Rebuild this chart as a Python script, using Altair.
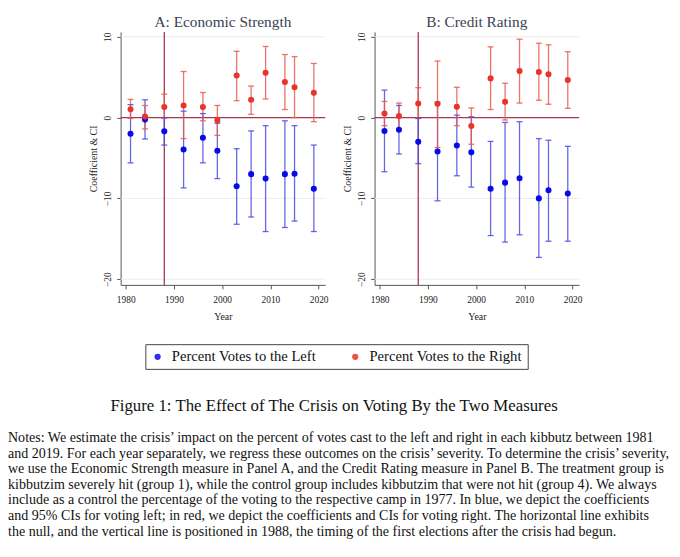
import altair as alt
import pandas as pd

# ---------------- data ----------------
YEARS = [1981, 1984, 1988, 1992, 1996, 1999, 2003, 2006, 2009, 2013, 2015, 2019]
SERIES = ["Percent Votes to the Left", "Percent Votes to the Right"]

# Panel A: Economic Strength
A_LEFT = [-2.0, -0.25, -1.7, -3.95, -2.5, -4.1, -8.5, -7.0, -7.55, -7.0, -6.95, -8.8]
A_LEFT_LO = [-5.6, -2.65, -3.4, -8.7, -5.6, -7.55, -13.2, -12.3, -14.1, -13.6, -12.8, -14.1]
A_LEFT_HI = [1.6, 2.2, 0.0, 0.8, 0.5, -0.7, -3.85, -1.65, -1.0, -0.4, -1.0, -3.4]
A_RIGHT = [1.02, 0.12, 1.3, 1.5, 1.3, -0.33, 5.2, 2.2, 5.55, 4.4, 3.75, 3.06]
A_RIGHT_LO = [-0.1, -1.4, -0.1, -2.6, -0.4, -2.2, 2.1, 0.4, 2.3, 1.0, 0.0, -0.5]
A_RIGHT_HI = [2.25, 1.5, 2.9, 5.7, 3.1, 1.5, 8.2, 3.9, 8.8, 7.8, 7.55, 6.7]

# Panel B: Credit Rating
B_LEFT = [-1.65, -1.5, -3.0, -4.2, -3.45, -4.3, -8.8, -8.05, -7.5, -10.0, -9.0, -9.4]
B_LEFT_LO = [-6.7, -4.5, -5.7, -10.3, -7.2, -8.6, -14.6, -15.4, -14.5, -17.3, -15.3, -15.3]
B_LEFT_HI = [3.4, 1.5, -0.1, 1.9, 0.3, 0.1, -2.95, -0.6, -0.5, -2.6, -2.8, -3.55]
B_RIGHT = [0.5, 0.2, 1.75, 1.7, 1.35, -1.05, 4.85, 1.95, 5.75, 5.65, 5.35, 4.65]
B_RIGHT_LO = [-1.0, -1.4, -0.1, -3.7, -1.0, -3.3, 1.0, -0.3, 1.8, 2.15, 1.65, 1.15]
B_RIGHT_HI = [2.0, 1.8, 3.7, 7.0, 3.75, 1.2, 8.75, 4.25, 9.7, 9.2, 9.0, 8.15]

CRISIS_YEAR = 1988
NULL_VALUE = 0
X_TICKS = [1980, 1990, 2000, 2010, 2020]
Y_TICKS = [10, 0, -10, -20]
X_DOMAIN = [1978.95, 2021.35]
Y_DOMAIN = [-20.7, 10.6]

CAPTION = "Figure 1: The Effect of The Crisis on Voting By the Two Measures"
NOTES = [
    "Notes: We estimate the crisis\u2019 impact on the percent of votes cast to the left and right in each kibbutz between 1981",
    "and 2019. For each year separately, we regress these outcomes on the crisis\u2019 severity. To determine the crisis\u2019 severity,",
    "we use the Economic Strength measure in Panel A, and the Credit Rating measure in Panel B. The treatment group is",
    "kibbutzim severely hit (group 1), while the control group includes kibbutzim that were not hit (group 4). We always",
    "include as a control the percentage of the voting to the respective camp in 1977. In blue, we depict the coefficients",
    "and 95% CIs for voting left; in red, we depict the coefficients and CIs for voting right. The horizontal line exhibits",
    "the null, and the vertical line is positioned in 1988, the timing of the first elections after the crisis had begun.",
]

# ---------------- styles ----------------
FONT = "Liberation Serif"
BLUE = "#0a0ae6"
RED = "#e8352a"
BLUE_CI = "#4b4be0"
RED_CI = "#ea5a4e"
REF = "#ad3553"
TITLE_COLOR = "#3a4252"
PW, PH = 207, 256


def panel(title, left, llo, lhi, right, rlo, rhi, extra=()):
    n = len(YEARS)
    df = pd.DataFrame({
        "year": YEARS * 2,
        "series": [SERIES[0]] * n + [SERIES[1]] * n,
        "coef": left + right,
        "lo": llo + rlo,
        "hi": lhi + rhi,
        "ci_color": [BLUE_CI] * n + [RED_CI] * n,
    })
    xs = alt.Scale(domain=X_DOMAIN, nice=False, zero=False)
    ys = alt.Scale(domain=Y_DOMAIN, nice=False, zero=False)
    x = alt.X("year:Q", scale=xs,
              axis=alt.Axis(values=X_TICKS, format="d", title="Year", grid=False,
                            labelPadding=6, titlePadding=8))
    base = alt.Chart(df)
    refs = alt.Chart(pd.DataFrame({"v": [NULL_VALUE]}))
    grid = alt.Chart(pd.DataFrame({"g": Y_TICKS})).mark_rule(color="#ececec", strokeWidth=1).encode(
        y=alt.Y("g:Q", scale=ys,
                axis=alt.Axis(values=Y_TICKS, title="Coefficient & CI", grid=False,
                              labelAngle=-90, labelAlign="center", labelBaseline="bottom",
                              labelPadding=4, titlePadding=4)),
        x=alt.value(0), x2=alt.value(PW))
    hline = refs.mark_rule(color=REF, strokeWidth=1.3).encode(
        y=alt.Y("v:Q", scale=ys), x=alt.value(0), x2=alt.value(PW))
    vline = refs.mark_rule(color=REF, strokeWidth=1.3).encode(
        x=alt.datum(CRISIS_YEAR, scale=xs), y=alt.value(0), y2=alt.value(PH))
    bars = base.mark_rule(strokeWidth=1.3, opacity=0.85).encode(
        x=x, y=alt.Y("lo:Q", scale=ys), y2="hi:Q",
        color=alt.Color("ci_color:N", scale=None))
    cap_lo = base.mark_tick(orient="horizontal", size=6, thickness=1.3, opacity=0.85).encode(
        x=x, y=alt.Y("lo:Q", scale=ys), color=alt.Color("ci_color:N", scale=None))
    cap_hi = base.mark_tick(orient="horizontal", size=6, thickness=1.3, opacity=0.85).encode(
        x=x, y=alt.Y("hi:Q", scale=ys), color=alt.Color("ci_color:N", scale=None))
    dots = base.mark_circle(size=38, opacity=1).encode(
        x=x, y=alt.Y("coef:Q", scale=ys),
        color=alt.Color("series:N", scale=alt.Scale(domain=SERIES, range=[BLUE, RED]),
                        legend=alt.Legend(orient="none", legendX=25, legendY=316,
                                          direction="horizontal", title=None,
                                          strokeColor="#444", fillColor="white",
                                          padding=5, symbolType="circle", symbolSize=40,
                                          labelFont=FONT, labelFontSize=14.8, labelColor="#111",
                                          labelOffset=7, columnPadding=32)))
    return alt.layer(grid, hline, vline, bars, cap_lo, cap_hi, dots, *extra).properties(
        width=PW, height=PH,
        title=alt.TitleParams(title, font=FONT, fontSize=15.5, fontWeight="normal",
                              color=TITLE_COLOR, offset=1))


foot_df = pd.DataFrame({"caption": [CAPTION], "notes": ["\n".join(NOTES)]})
cap = alt.Chart(foot_df).mark_text(font=FONT, fontSize=17, color="#111", align="center",
                                   baseline="middle").encode(
    text="caption:N", x=alt.value(216), y=alt.value(PH + 123))
notes = alt.Chart(foot_df).mark_text(font=FONT, fontSize=14.2, color="#111", align="left",
                                     baseline="middle", lineBreak="\n", lineHeight=15.8).encode(
    text="notes:N", x=alt.value(-114), y=alt.value(PH + 155))

pa = panel("A: Economic Strength", A_LEFT, A_LEFT_LO, A_LEFT_HI, A_RIGHT, A_RIGHT_LO, A_RIGHT_HI,
           extra=(cap, notes))
pb = panel("B: Credit Rating", B_LEFT, B_LEFT_LO, B_LEFT_HI, B_RIGHT, B_RIGHT_LO, B_RIGHT_HI)

chart = alt.hconcat(pa, pb, spacing=50, bounds="flush").properties(
    padding={"left": 0, "top": 3, "right": 0, "bottom": 0}
).configure_view(stroke=None).configure_axis(
    labelFont=FONT, titleFont=FONT, labelFontSize=9.5, titleFontSize=10,
    labelColor="#222", titleColor="#222", titleFontWeight="normal",
    domainColor="#555", tickColor="#555", tickSize=4, domainWidth=1
)

chart.save("out.html", embed_options={"renderer": "svg", "actions": False})
